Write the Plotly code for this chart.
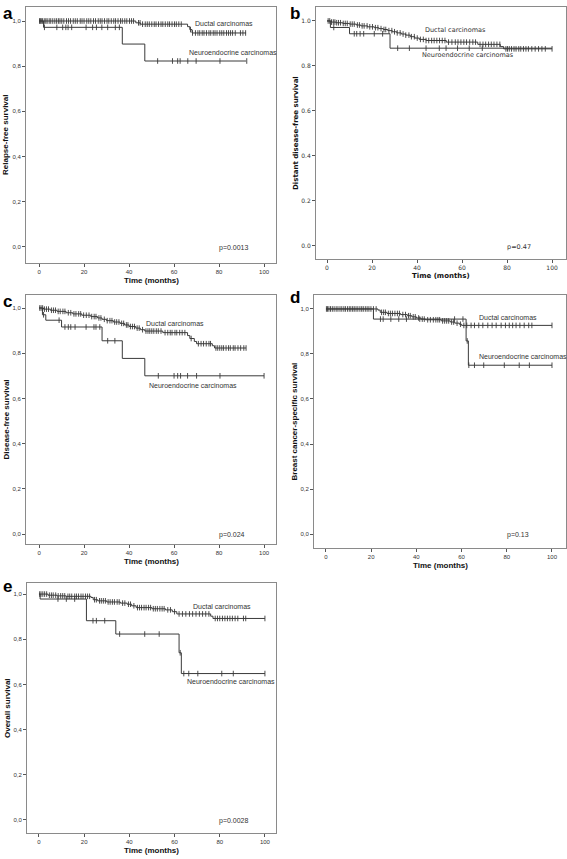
import plotly.graph_objects as go

# ---------------- data ----------------
# Panel a: Relapse-free survival
a_duct_t = [0, 43, 45, 66, 67, 68]
a_duct_s = [1.0, 0.992, 0.986, 0.975, 0.962, 0.947]
a_duct_end = 92
a_duct_c = [0.2, 0.6, 1.0, 1.5, 2.3, 3.0, 3.6, 4.5, 5.2, 6.1, 7.0, 7.8, 8.6, 9.3, 10.1, 11.0, 12.2, 13.1,
            14.0, 15.2, 16.1, 17.0, 18.3, 19.1, 20.0, 21.2, 22.1, 23.0, 24.2, 25.1, 26.3, 27.2, 28.0, 29.1,
            30.2, 31.0, 32.1, 33.2, 34.0, 35.1, 36.2, 37.0, 38.1, 39.0, 40.2, 41.1, 42.0, 44.2, 44.9, 46.0,
            47.2, 48.1, 49.0, 50.1, 51.2, 52.0, 53.1, 54.2, 55.0, 56.1, 57.2, 58.0, 59.1, 60.2, 61.0, 62.1,
            63.2, 67.3, 68.2, 69.5, 70.6, 71.4, 72.5, 73.3, 74.4, 75.5, 76.3, 77.4, 78.2, 79.1, 80.3, 81.2,
            82.1, 83.3, 84.2, 85.1, 86.0, 87.2, 89.5, 90.6, 91.8]
a_ne_t = [0, 2, 37, 47]
a_ne_s = [1.0, 0.972, 0.898, 0.823]
a_ne_end = 92
a_ne_c = [2.4, 7.9, 10.5, 11.9, 12.9, 14.5, 20.9, 23.8, 25.5, 27.9, 30.5, 33.9, 35.7, 52.7, 59.3, 61.6,
          62.7, 66.1, 69.8, 80.4, 92.3]

# Panel b: Distant disease-free survival
b_duct_t = [0, 2, 4, 7, 10, 13, 15, 18, 21, 23, 25, 27, 29, 31, 33, 35, 37, 39, 41, 44, 53, 67, 77, 78.5]
b_duct_s = [1.0, 0.995, 0.992, 0.989, 0.986, 0.982, 0.978, 0.974, 0.970, 0.966, 0.962, 0.957, 0.952,
            0.947, 0.942, 0.937, 0.930, 0.924, 0.918, 0.913, 0.906, 0.896, 0.886, 0.876]
b_duct_end = 100
b_duct_c = [0.5, 1.2, 2.0, 2.8, 3.5, 4.3, 5.1, 6.0, 7.2, 8.1, 9.0, 10.3, 11.2, 12.1, 13.5, 14.4, 15.6,
            16.5, 17.8, 19.0, 20.2, 21.5, 22.6, 24.0, 25.3, 26.1, 27.5, 28.8, 30.0, 31.2, 32.5, 33.8, 35.0,
            36.4, 37.5, 38.8, 40.1, 41.5, 42.8, 44.0, 45.2, 46.5, 47.6, 48.8, 50.0, 51.2, 52.4, 54.0, 55.5,
            57.0, 58.2, 59.5, 60.8, 62.0, 63.4, 64.8, 66.0, 68.0, 69.3, 70.5, 71.8, 73.0, 74.2, 75.5, 76.8,
            79.5, 80.2, 81.0, 82.0, 83.1, 84.0, 85.2, 86.1, 87.3, 88.4, 89.5, 91.0, 92.5, 94.0, 95.5, 97.0, 100.0]
b_ne_t = [0, 1.5, 10, 28]
b_ne_s = [1.0, 0.971, 0.943, 0.879]
b_ne_end = 100
b_ne_c = [3.0, 12.1, 13.2, 14.7, 16.3, 21.0, 24.7, 31.4, 36.6, 44.0, 49.9, 52.9, 58.0, 63.2, 69.0]

# Panel c: Disease-free survival
c_duct_t = [0, 2, 5, 8, 12, 15, 19, 23, 26, 28, 30, 33, 36, 38, 40, 43, 45, 47, 55, 66, 67, 69, 70, 77, 78]
c_duct_s = [1.0, 0.995, 0.990, 0.985, 0.979, 0.974, 0.968, 0.962, 0.956, 0.950, 0.944, 0.938, 0.932,
            0.925, 0.918, 0.911, 0.904, 0.898, 0.891, 0.878, 0.865, 0.852, 0.842, 0.833, 0.823]
c_duct_end = 92
c_duct_c = [0.3, 0.9, 1.6, 2.4, 3.3, 4.2, 5.5, 6.4, 7.3, 8.5, 9.4, 10.6, 11.5, 13.0, 14.1, 15.5, 16.4,
            17.6, 18.5, 19.8, 21.0, 22.2, 23.4, 24.5, 25.3, 26.6, 27.5, 29.0, 30.3, 31.5, 32.4, 33.6, 34.5,
            35.5, 36.7, 37.6, 38.8, 39.5, 40.6, 41.5, 42.4, 43.6, 44.5, 46.0, 47.5, 48.4, 49.2, 50.1, 51.0,
            52.1, 53.0, 54.2, 56.0, 57.2, 58.3, 59.1, 60.4, 61.2, 62.5, 63.6, 64.8, 67.6, 70.8, 72.0, 73.1,
            74.3, 75.5, 76.2, 78.6, 79.4, 80.3, 81.2, 82.0, 83.1, 84.2, 85.0, 86.3, 87.1, 88.4, 89.6, 91.0, 92.0]
c_ne_t = [0, 1.5, 3, 10, 28, 37, 47]
c_ne_s = [1.0, 0.970, 0.946, 0.916, 0.855, 0.777, 0.700]
c_ne_end = 100
c_ne_c = [2.0, 8.9, 11.5, 13.0, 14.1, 16.0, 20.9, 24.4, 25.3, 27.0, 30.5, 33.7, 53.0, 60.0, 61.6, 62.9,
          66.0, 70.0, 80.4, 100.0]

# Panel d: Breast cancer-specific survival
d_duct_t = [0, 23, 24, 27, 33, 36, 38, 40, 42, 44, 51, 55, 57, 59, 60]
d_duct_s = [1.0, 0.995, 0.985, 0.980, 0.975, 0.970, 0.965, 0.960, 0.955, 0.952, 0.947, 0.942, 0.937,
            0.932, 0.927]
d_duct_end = 100
d_duct_c = [0.2, 0.7, 1.3, 2.0, 2.8, 3.6, 4.5, 5.3, 6.2, 7.0, 7.9, 8.6, 9.5, 10.3, 11.0, 11.8, 12.5, 13.3,
            14.1, 15.0, 15.8, 16.5, 17.4, 18.2, 19.0, 19.9, 21.0, 22.2, 24.6, 25.5, 26.3, 27.6, 28.5, 29.4,
            30.5, 31.6, 32.5, 34.0, 35.2, 36.5, 37.3, 38.6, 39.5, 41.0, 42.6, 43.5, 45.0, 46.2, 47.5, 48.6,
            49.5, 50.3, 51.6, 52.5, 53.4, 54.3, 55.6, 56.5, 58.0, 59.5, 61.0, 62.3, 64.2, 65.7, 67.6, 69.4,
            71.6, 73.5, 75.3, 77.5, 79.4, 81.1, 82.6, 84.1, 85.8, 87.7, 89.7, 91.1, 100.0]
d_ne_t = [0, 21, 62, 63]
d_ne_s = [1.0, 0.955, 0.858, 0.750]
d_ne_end = 100
d_ne_c = [24.1, 25.3, 28.7, 32.2, 35.6, 41.5, 56.9, 60.6, 62.5, 63.2, 65.7, 69.8, 78.9, 85.5, 90.0, 100.0]

# Panel e: Overall survival
e_duct_t = [0, 4, 8, 12, 23, 24, 26, 30, 36, 39, 41, 43, 50, 56, 59, 61, 76, 77]
e_duct_s = [1.0, 0.995, 0.992, 0.990, 0.985, 0.975, 0.970, 0.965, 0.960, 0.955, 0.948, 0.940, 0.935,
            0.930, 0.922, 0.912, 0.902, 0.892]
e_duct_end = 100
e_duct_c = [0.3, 0.9, 1.7, 2.5, 3.4, 4.6, 5.5, 6.3, 7.4, 8.5, 9.6, 10.5, 11.4, 12.8, 13.6, 14.5, 15.8,
            16.6, 17.5, 18.6, 19.5, 20.6, 21.5, 22.4, 24.6, 25.4, 26.8, 27.6, 28.5, 29.4, 30.6, 31.5, 32.5,
            33.4, 34.6, 35.5, 37.0, 38.0, 39.6, 40.5, 42.0, 43.6, 44.5, 45.4, 46.5, 47.4, 48.5, 49.4, 50.6,
            51.5, 52.4, 53.5, 54.5, 55.4, 57.0, 58.2, 60.0, 62.0, 63.5, 65.0, 66.6, 68.0, 69.5, 71.0, 72.4,
            73.8, 75.2, 78.0, 79.0, 80.0, 81.2, 82.3, 83.4, 84.5, 85.6, 86.8, 88.0, 90.5, 91.5, 100.0]
e_ne_t = [0, 0.5, 21, 34, 62, 63]
e_ne_s = [1.0, 0.978, 0.882, 0.823, 0.740, 0.648]
e_ne_end = 100
e_ne_c = [8.4, 12.1, 15.8, 23.9, 25.4, 29.1, 35.7, 46.8, 53.2, 62.5, 64.1, 66.3, 70.3, 80.9, 86.0, 100.0]

y_titles = ["Relapse-free survival", "Distant disease-free survival", "Disease-free survival",
            "Breast cancer-specific survival", "Overall survival"]
p_values = ["p=0.0013", "p=0.47", "p=0.024", "p=0.13", "p=0.0028"]
panel_letters = ["a", "b", "c", "d", "e"]
y_tickvals = [0.0, 0.2, 0.4, 0.6, 0.8, 1.0]
y_ticks_comma = ["0,0", "0,2", "0,4", "0,6", "0,8", "1,0"]
y_ticks_dot = ["0.0", "0.2", "0.4", "0.6", "0.8", "1.0"]
x_tickvals = [0, 20, 40, 60, 80, 100]
label_duct = "Ductal carcinomas"
label_ne = "Neuroendocrine carcinomas"

# ---------------- layout geometry (pixels) ----------------
W, H = 567, 859
panels = [
    dict(data=(a_duct_t, a_duct_s, a_duct_end, a_duct_c, a_ne_t, a_ne_s, a_ne_end, a_ne_c),
         box=(26, 276, 7, 263), xr=[-5.8, 105.3], yr=[-0.071, 1.062], font="Liberation Sans",
         yt=y_ticks_comma, lab_d=(68.6, 0.99), lab_n=(65.9, 0.86), letter=(1, 2), tsize=8, lsize=7),
    dict(data=(b_duct_t, b_duct_s, b_duct_end, b_duct_c, b_ne_t, b_ne_s, b_ne_end, b_ne_c),
         box=(316, 566, 7, 259), xr=[-4.9, 106.2], yr=[-0.058, 1.062], font="DejaVu Sans",
         yt=y_ticks_dot, lab_d=(42.5, 0.96), lab_n=(41.3, 0.848), letter=(288, 2), tsize=7, lsize=6.5),
    dict(data=(c_duct_t, c_duct_s, c_duct_end, c_duct_c, c_ne_t, c_ne_s, c_ne_end, c_ne_c),
         box=(26, 276, 295, 544), xr=[-5.8, 105.3], yr=[-0.044, 1.0575], font="Liberation Sans",
         yt=y_ticks_comma, lab_d=(46.6, 0.932), lab_n=(47.9, 0.659), letter=(1, 290), tsize=8, lsize=7),
    dict(data=(d_duct_t, d_duct_s, d_duct_end, d_duct_c, d_ne_t, d_ne_s, d_ne_end, d_ne_c),
         box=(314, 566, 295, 548), xr=[-5.3, 106.2], yr=[-0.062, 1.062], font="Liberation Sans",
         yt=y_ticks_comma, lab_d=(67, 0.963), lab_n=(67, 0.789), letter=(288, 286), tsize=8, lsize=7),
    dict(data=(e_duct_t, e_duct_s, e_duct_end, e_duct_c, e_ne_t, e_ne_s, e_ne_end, e_ne_c),
         box=(27, 276, 583, 833), xr=[-5.3, 104.9], yr=[-0.058, 1.049], font="Liberation Sans",
         yt=y_ticks_comma, lab_d=(67.5, 0.944), lab_n=(64.6, 0.612), letter=(1, 575), tsize=8, lsize=7),
]

LINE = "#3a3a3a"


def step_xy(t, s, end):
    return list(t) + [end], list(s) + [s[-1]]


def surv_at(t, s, x):
    v = s[0]
    for ti, si in zip(t, s):
        if ti <= x:
            v = si
    return v


fig = go.Figure()
annotations = []
layout_axes = {}

for i, p in enumerate(panels):
    k = "" if i == 0 else str(i + 1)
    xa, ya = "x" + k, "y" + k
    x0, x1, y0, y1 = p["box"]
    dt, ds, dend, dc, nt, ns, nend, nc = p["data"]
    for (t, s, end, c) in [(dt, ds, dend, dc), (nt, ns, nend, nc)]:
        sx, sy = step_xy(t, s, end)
        fig.add_trace(go.Scatter(x=sx, y=sy, mode="lines", line=dict(shape="hv", color=LINE, width=1),
                                 xaxis=xa, yaxis=ya, showlegend=False, hoverinfo="skip"))
        fig.add_trace(go.Scatter(x=c, y=[surv_at(t, s, v) for v in c], mode="markers",
                                 marker=dict(symbol="line-ns", size=4, line=dict(color=LINE, width=0.9)),
                                 xaxis=xa, yaxis=ya, showlegend=False, hoverinfo="skip"))
    f = p["font"]
    axis_common = dict(showline=True, linecolor="#8a8a8a", linewidth=1, mirror=True, showgrid=False,
                       zeroline=False, ticks="outside", ticklen=3, tickcolor="#555", tickwidth=1,
                       tickfont=dict(family=f, size=6, color="#333"))
    layout_axes["xaxis" + k] = dict(domain=[x0 / W, x1 / W], range=p["xr"], anchor=ya,
                                    tickvals=x_tickvals, ticktext=[str(v) for v in x_tickvals],
                                    **axis_common)
    layout_axes["yaxis" + k] = dict(domain=[1 - y1 / H, 1 - y0 / H], range=p["yr"], anchor=xa,
                                    tickvals=y_tickvals, ticktext=p["yt"], **axis_common)
    # axis titles
    annotations.append(dict(xref="paper", yref="paper", x=(x0 + x1) / 2 / W, y=1 - (y1 + 17) / H,
                            text="<b>Time (months)</b>", showarrow=False, xanchor="center",
                            yanchor="middle", font=dict(family=f, size=p["tsize"], color="#111")))
    annotations.append(dict(xref="paper", yref="paper", x=(x0 - 20) / W, y=1 - (y0 + y1) / 2 / H,
                            text="<b>" + y_titles[i] + "</b>", showarrow=False, textangle=-90,
                            xanchor="center", yanchor="middle",
                            font=dict(family=f, size=p["tsize"], color="#111")))
    # panel letter
    lx, ly = p["letter"]
    annotations.append(dict(xref="paper", yref="paper", x=lx / W, y=1 - ly / H,
                            text="<b>" + panel_letters[i] + "</b>", showarrow=False, xanchor="left",
                            yanchor="top", font=dict(family="Liberation Sans", size=17, color="#000")))
    # group labels
    annotations.append(dict(xref=xa, yref=ya, x=p["lab_d"][0], y=p["lab_d"][1], text=label_duct,
                            showarrow=False, xanchor="left", yanchor="middle",
                            font=dict(family=f, size=p["lsize"], color="#333")))
    annotations.append(dict(xref=xa, yref=ya, x=p["lab_n"][0], y=p["lab_n"][1], text=label_ne,
                            showarrow=False, xanchor="left", yanchor="middle",
                            font=dict(family=f, size=p["lsize"], color="#333")))
    # p-value
    annotations.append(dict(xref=xa, yref=ya, x=79, y=-0.005, text=p_values[i], showarrow=False,
                            xanchor="left", yanchor="middle",
                            font=dict(family=f, size=p["lsize"], color="#333")))

fig.update_layout(width=W, height=H, margin=dict(l=0, r=0, t=0, b=0), paper_bgcolor="white",
                  plot_bgcolor="white", annotations=annotations, **layout_axes)

fig.write_html("out.html", config={"displayModeBar": False},
               post_script="document.body.style.margin='0';document.body.style.overflow='hidden';")
